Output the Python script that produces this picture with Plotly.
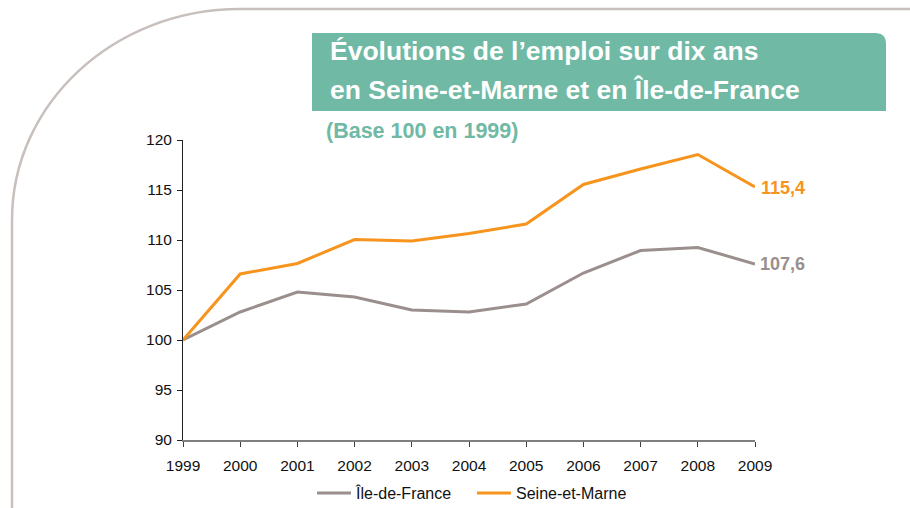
import plotly.graph_objects as go

years = [1999, 2000, 2001, 2002, 2003, 2004, 2005, 2006, 2007, 2008, 2009]
idf = [100, 102.8, 104.8, 104.3, 103.0, 102.8, 103.6, 106.7, 108.95, 109.25, 107.6]
sem = [100, 106.6, 107.65, 110.05, 109.9, 110.65, 111.6, 115.55, 117.1, 118.55, 115.3]
end_labels = ["107,6", "115,4"]
series_names = ["Île-de-France", "Seine-et-Marne"]
title_lines = ["Évolutions de l’emploi sur dix ans", "en Seine-et-Marne et en Île-de-France"]
subtitle = "(Base 100 en 1999)"

W, H = 910, 508
ML, MR, MT, MB = 183, 155, 140, 68
PW, PH = W - ML - MR, H - MT - MB

def px(x):
    return (x - ML) / PW

def py(y):
    return (H - MB - y) / PH

GREY = "#9a8f8d"
ORANGE = "#f7941d"
TEAL = "#6fb9a5"
FRAME = "#c8c0bd"
FONT = "Arial, Liberation Sans, sans-serif"

fig = go.Figure()
fig.add_trace(go.Scatter(x=years, y=idf, mode="lines", name=series_names[0],
                         line=dict(color=GREY, width=3)))
fig.add_trace(go.Scatter(x=years, y=sem, mode="lines", name=series_names[1],
                         line=dict(color=ORANGE, width=3)))

# end labels
fig.add_annotation(x=years[-1], y=idf[-1], text="<b>%s</b>" % end_labels[0], showarrow=False,
                   xanchor="left", yanchor="middle", xshift=3,
                   font=dict(family=FONT, size=18, color=GREY))
fig.add_annotation(x=years[-1], y=sem[-1], text="<b>%s</b>" % end_labels[1], showarrow=False,
                   xanchor="left", yanchor="middle", xshift=4, yshift=-1,
                   font=dict(family=FONT, size=18, color=ORANGE))

# frame
frame_path = "M {a},{b} L {c},{b} C {d},{b} {e},{f} {e},{g} L {e},{h}".format(
    a=px(912), b=py(9), c=px(240), d=px(114), e=px(12), f=py(103.5), g=py(220), h=py(512))
fig.add_shape(type="path", xref="paper", yref="paper", path=frame_path,
              line=dict(color=FRAME, width=2.5), layer="below")

# title box
box_path = "M {x0},{y0} L {x1},{y0} Q {x2},{y0} {x2},{y1} L {x2},{y2} L {x0},{y2} Z".format(
    x0=px(312), y0=py(33), x1=px(875), x2=px(886), y1=py(44), y2=py(111))
fig.add_shape(type="path", xref="paper", yref="paper", path=box_path,
              fillcolor=TEAL, line=dict(width=0), layer="below")

fig.add_annotation(xref="paper", yref="paper", x=px(328), y=py(51), text="<b>%s</b>" % title_lines[0],
                   showarrow=False, xanchor="left", yanchor="middle",
                   font=dict(family=FONT, size=26.5, color="white"))
fig.add_annotation(xref="paper", yref="paper", x=px(328), y=py(90), text="<b>%s</b>" % title_lines[1],
                   showarrow=False, xanchor="left", yanchor="middle",
                   font=dict(family=FONT, size=26.5, color="white"))
fig.add_annotation(xref="paper", yref="paper", x=px(324), y=py(131), text="<b>%s</b>" % subtitle,
                   showarrow=False, xanchor="left", yanchor="middle",
                   font=dict(family=FONT, size=21.5, color=TEAL))

fig.update_xaxes(range=[1999, 2009], tickmode="array", tickvals=years,
                 ticktext=[str(y) for y in years], showgrid=False, zeroline=False,
                 showline=True, linecolor="#7f7f7f", linewidth=1.5,
                 ticks="outside", ticklen=5, tickcolor="#404040", tickwidth=1,
                 ticklabelstandoff=6,
                 tickfont=dict(family=FONT, size=15.5, color="#111111"), automargin=False)
fig.update_yaxes(range=[90, 120], tickmode="array", tickvals=[90, 95, 100, 105, 110, 115, 120],
                 showgrid=False, zeroline=False,
                 showline=True, linecolor="#202020", linewidth=1,
                 ticks="outside", ticklen=5, tickcolor="#202020", tickwidth=1,
                 ticklabelstandoff=2,
                 tickfont=dict(family=FONT, size=15.5, color="#111111"), automargin=False)

fig.update_layout(width=W, height=H, margin=dict(l=ML, r=MR, t=MT, b=MB, pad=0, autoexpand=False),
                  paper_bgcolor="white", plot_bgcolor="white",
                  showlegend=True,
                  legend=dict(orientation="h", x=px(472), xanchor="center",
                              yref="container", y=(H - 493) / H, yanchor="middle",
                              font=dict(family=FONT, size=16, color="#111111"),
                              itemwidth=34, entrywidth=111, entrywidthmode="pixels",
                              tracegroupgap=0, bgcolor="rgba(0,0,0,0)",
                              borderwidth=0))

fig.write_html("out.html", config={"displayModeBar": False},
               post_script="document.body.style.margin='0';document.body.style.overflow='hidden';")
